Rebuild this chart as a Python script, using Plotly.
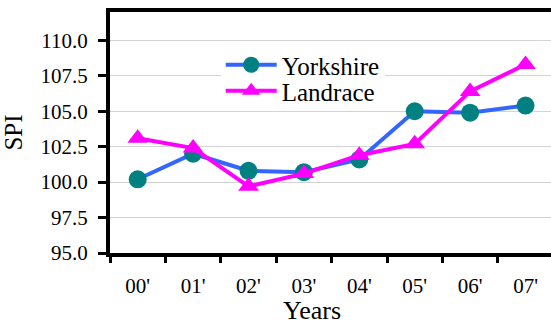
import plotly.graph_objects as go

years = ["00'", "01'", "02'", "03'", "04'", "05'", "06'", "07'"]
yorkshire = [100.2, 102.0, 100.8, 100.7, 101.6, 105.0, 104.9, 105.4]
landrace = [103.1, 102.4, 99.7, 100.6, 101.9, 102.7, 106.4, 108.3]

FONT = "Liberation Serif"

fig = go.Figure()
fig.add_trace(go.Scatter(
    x=years, y=yorkshire, name="Yorkshire", mode="lines+markers",
    line=dict(color="#3366FF", width=4),
    marker=dict(symbol="circle", size=18, color="#008080"),
    legend="legend",
))
fig.add_trace(go.Scatter(
    x=years, y=landrace, name="Landrace", mode="lines+markers",
    line=dict(color="#FF00FF", width=4),
    marker=dict(symbol="triangle-up", size=18, color="#FF00FF"),
    legend="legend2",
))

fig.update_layout(
    width=551, height=322,
    margin=dict(l=110, r=0, t=12, b=69, autoexpand=False),
    paper_bgcolor="white", plot_bgcolor="white",
    font=dict(family=FONT, color="black", size=21),
    showlegend=True,
    legend=dict(x=0.251, y=(253 - 42) / 241, xanchor="left", yanchor="top",
                bgcolor="white", itemwidth=51,
                font=dict(size=25, family=FONT, color="black")),
    legend2=dict(x=0.251, y=(253 - 68) / 241, xanchor="left", yanchor="top",
                 bgcolor="rgba(0,0,0,0)", itemwidth=51,
                 font=dict(size=25, family=FONT, color="black")),
    xaxis=dict(
        type="category", range=[-0.5, 7.46],
        showline=True, linecolor="black", linewidth=4, mirror=True,
        ticks="outside", tickson="boundaries", ticklen=6, tickwidth=3, tickcolor="black",
        showgrid=False, ticklabelstandoff=11, automargin=False,
        tickfont=dict(size=21, family=FONT, color="black"),
    ),
    yaxis=dict(
        range=[95, 112], dtick=2.5, tick0=95, tickformat=".1f",
        showline=True, linecolor="black", linewidth=4,
        ticks="outside", ticklen=8, tickwidth=3, tickcolor="black",
        showgrid=True, gridcolor="#D3D3D3", gridwidth=1,
        zeroline=False, automargin=False, ticklabelstandoff=6,
        tickfont=dict(size=21, family=FONT, color="black"),
        title=dict(text="SPI", font=dict(size=25, family=FONT, color="black"), standoff=12),
    ),
    annotations=[dict(
        text="Years", xref="paper", yref="paper",
        x=(312 - 110) / 441, y=(253 - 310) / 241,
        xanchor="center", yanchor="middle", showarrow=False,
        font=dict(size=26, family=FONT, color="black"),
    )],
)

fig.write_html("out.html", config={"displayModeBar": False},
               post_script="document.body.style.margin='0';")
